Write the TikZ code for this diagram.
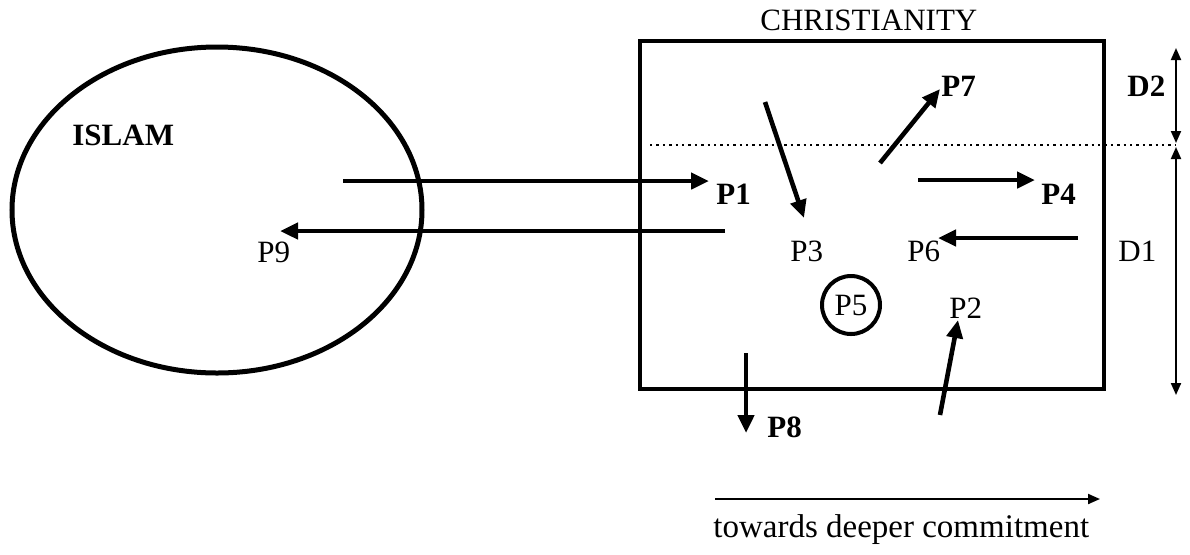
\documentclass[tikz,border=0pt]{standalone}
\usepackage{fontspec}
\setmainfont{Liberation Serif}
\usetikzlibrary{arrows.meta, positioning}

\begin{document}
\begin{tikzpicture}[
    x=0.5pt, y=-0.5pt,
    lbl/.style={inner sep=0pt, anchor=base west, font=\fontsize{15.5}{18}\selectfont},
    lblb/.style={lbl, font=\fontsize{15.5}{18}\selectfont\bfseries},
    move/.style={-{Triangle[length=9pt, width=8pt]}, line width=2.3pt},
    dim/.style={{Triangle[length=6pt, width=5pt]}-{Triangle[length=6pt, width=5pt]}, line width=1pt},
]
\useasboundingbox (0,0) rectangle (1190,554);

% Islam
\draw[line width=2.5pt] (217,210) ellipse [x radius=205, y radius=163];
\node (islam) [lblb] at (72,145) {ISLAM};

% Christianity
\draw[line width=2.4pt] (640,41) rectangle (1104,389);
\node (christ) [lbl] at (760,30) {CHRISTIANITY};
\draw[dotted, line width=1.2pt] (650,145) -- (1176,145);

% Labels
\node (p1) [lblb] at (716,204) {P1};
\node (p2) [lbl] at (949,318) {P2};
\node (p3) [lbl] at (790,261) {P3};
\node (p4) [lblb] at (1041,204) {P4};
\node (p5) [draw, circle, line width=2pt, minimum size=29pt, inner sep=0pt,
            font=\fontsize{15.5}{18}\selectfont] at (851,305) {P5};
\node (p6) [lbl] at (907,261) {P6};
\node (p7) [lblb] at (941,96) {P7};
\node (p8) [lblb] at (767,437) {P8};
\node (p9) [lbl] at (257,262) {P9};
\node (d2) [lblb] at (1127,96) {D2};
\node (d1) [lbl] at (1118,261) {D1};
\node (deeper) [lbl, font=\fontsize{16.5}{19}\selectfont] at (713,537) {towards deeper commitment};

% Arrow ends
\coordinate (p1s) at (343,181);  \coordinate (p1e) at (709,181);
\coordinate (p9s) at (725,231);  \coordinate (p9e) at (280,231);
\coordinate (p3s) at (765,102);  \coordinate (p3e) at (804,218);
\coordinate (p7s) at (880,163);  \coordinate (p7e) at (940,89);
\coordinate (p4s) at (918,180);  \coordinate (p4e) at (1035,180);
\coordinate (p6s) at (1078,238); \coordinate (p6e) at (938,238);
\coordinate (p2s) at (940,415);  \coordinate (p2e) at (958,320);
\coordinate (p8s) at (746,353);  \coordinate (p8e) at (746,433);
\coordinate (cs) at (715,499);   \coordinate (ce) at (1100,499);
\coordinate (dtop) at (1176,48); \coordinate (dmid) at (1176,145);
\coordinate (dbot) at (1176,395);

% Arrows
\draw[move] (p1s) -- (p1e);
\draw[move] (p9s) -- (p9e);
\draw[move] (p3s) -- (p3e);
\draw[move] (p7s) -- (p7e);
\draw[move] (p4s) -- (p4e);
\draw[move] (p6s) -- (p6e);
\draw[move] (p2s) -- (p2e);
\draw[move] (p8s) -- (p8e);
\draw[-{Triangle[length=6pt, width=5pt]}, line width=1pt] (cs) -- (ce);

% Depth
\draw[dim] (dtop) -- ([yshift=1pt]dmid);
\draw[dim] ([yshift=-1pt]dmid) -- (dbot);

\end{tikzpicture}
\end{document}
